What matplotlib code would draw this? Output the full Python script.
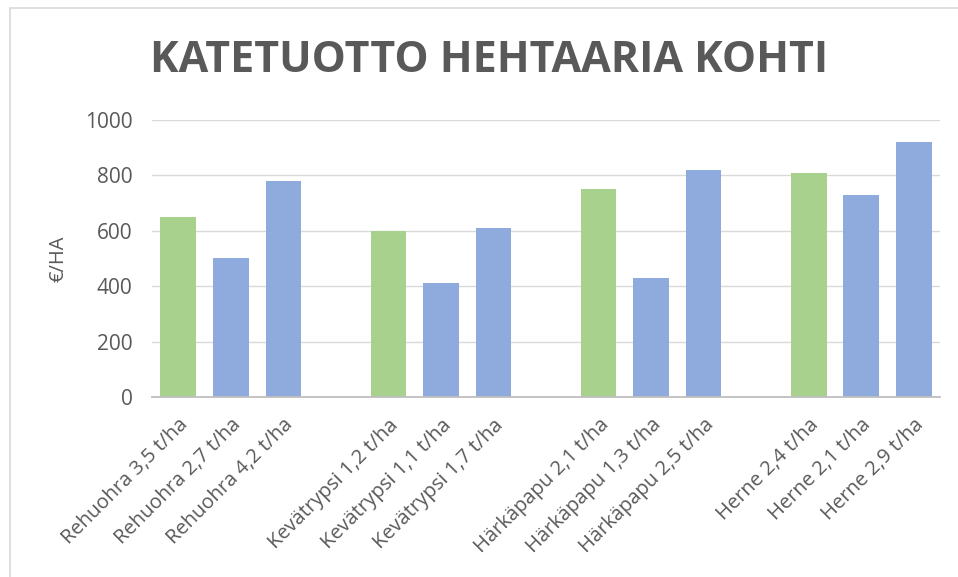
import matplotlib.pyplot as plt
from matplotlib.patches import Rectangle

plt.rcParams['font.family'] = ['Open Sans', 'DejaVu Sans']

labels = ['Rehuohra 3,5 t/ha', 'Rehuohra 2,7 t/ha', 'Rehuohra 4,2 t/ha',
          'Kevätrypsi 1,2 t/ha', 'Kevätrypsi 1,1 t/ha', 'Kevätrypsi 1,7 t/ha',
          'Härkäpapu 2,1 t/ha', 'Härkäpapu 1,3 t/ha', 'Härkäpapu 2,5 t/ha',
          'Herne 2,4 t/ha', 'Herne 2,1 t/ha', 'Herne 2,9 t/ha']
values = [650, 500, 780, 600, 410, 610, 750, 430, 820, 810, 730, 920]
is_base = [True, False, False] * 4

green = '#A9D18E'
blue = '#8FAADC'
text_col = '#595959'

fig = plt.figure(figsize=(9.58, 5.77), dpi=100)
ax = fig.add_axes([0.1587, 0.312, 0.8225, 0.48])

# four groups of three, one empty slot between groups
pos = [g * 4 + i for g in range(4) for i in range(3)]
colors = [green if b else blue for b in is_base]
ax.bar(pos, values, width=0.68, color=colors, zorder=3)

ax.set_xlim(-0.5, 14.5)
ax.set_ylim(0, 1000)
ax.set_yticks(range(0, 1001, 200))
ax.yaxis.grid(True, color='#D9D9D9', linewidth=1, zorder=0)
ax.set_xticks(pos)
ax.set_xticklabels(labels, rotation=45, ha='right', rotation_mode='anchor')
ax.tick_params(axis='x', length=0, pad=13, labelsize=14.5, labelcolor=text_col)
ax.tick_params(axis='y', length=0, pad=14, labelsize=15, labelcolor=text_col)
for s in ['top', 'right', 'left']:
    ax.spines[s].set_visible(False)
ax.spines['bottom'].set_color('#BFBFBF')
ax.spines['bottom'].set_linewidth(1.3)
ax.spines['bottom'].set_zorder(4)

ax.set_ylabel('€/HA', fontsize=14.5, color=text_col, labelpad=12)

fig.text(0.51, 0.895, 'KATETUOTTO HEHTAARIA KOHTI', ha='center', va='center',
         fontsize=31, fontweight='bold', color=text_col)

fig.patches.append(Rectangle((10 / 958, -0.1), 1.2, 1 - 8 / 577 + 0.1,
                             transform=fig.transFigure, fill=False,
                             edgecolor='#D9D9D9', linewidth=1.2))

fig.savefig('out.png', dpi=100)
